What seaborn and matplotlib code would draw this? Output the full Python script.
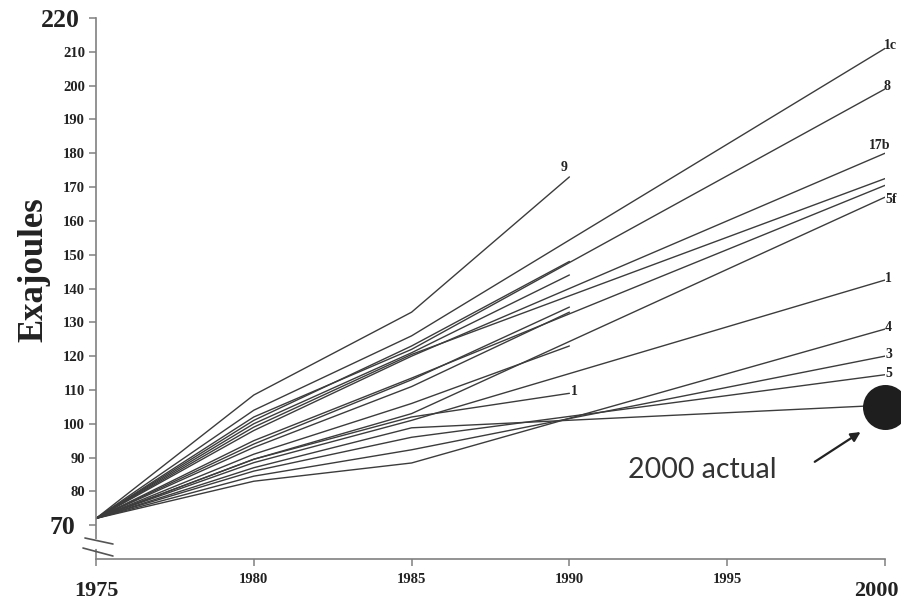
import pandas as pd
import matplotlib
matplotlib.use('Agg')
import matplotlib.pyplot as plt
import matplotlib.transforms as mtransforms
import seaborn as sns

# ========== DADOS ==========
# projecoes que vao ate 2000
long_labels = ['1c', '8', '17b', '', '', '5f', '1', '4', '3', '5', '']
long_1975 = [72, 72, 72, 72, 72, 72, 72, 72, 72, 72, 72]
long_1980 = [104, 102, 98, 99, 95, 89.5, 88.5, 83, 84.5, 86, 87]
long_1985 = [126, 122, 120, 120.5, 113.5, 103, 101, 88.4, 92.3, 96, 98.8]
long_2000 = [211, 199, 180, 172.5, 170.5, 167, 142.5, 128, 120, 114.5, 105.5]

# projecoes que param em 1990
short_labels = ['9', '', '', '', '', '', '1']
short_1975 = [72, 72, 72, 72, 72, 72, 72]
short_1980 = [108.5, 101, 100, 94, 93, 91, 89.5]
short_1985 = [133, 123, 121, 113, 111, 106, 102]
short_1990 = [173, 148, 144, 134.5, 133, 123, 109]

actual_year = [2000]
actual_value = [105]

y_ticks = [70, 80, 90, 100, 110, 120, 130, 140, 150, 160, 170, 180, 190, 200, 210, 220]
x_ticks = [1975, 1980, 1985, 1990, 1995, 2000]

# ========== MONTAR TABELA LONGA ==========
linhas = []
for i in range(len(long_labels)):
    for ano, v in zip([1975, 1980, 1985, 2000],
                      [long_1975[i], long_1980[i], long_1985[i], long_2000[i]]):
        linhas.append({'run': f'L{i}', 'ano': ano, 'ej': v})
for i in range(len(short_labels)):
    for ano, v in zip([1975, 1980, 1985, 1990],
                      [short_1975[i], short_1980[i], short_1985[i], short_1990[i]]):
        linhas.append({'run': f'S{i}', 'ano': ano, 'ej': v})
df = pd.DataFrame(linhas)
df_actual = pd.DataFrame({'ano': actual_year, 'ej': actual_value})

# ========== FIGURA ==========
sns.set_style('white')
serif = ['Liberation Serif', 'DejaVu Serif']

fig = plt.figure(figsize=(9.01, 6.01), dpi=100)
ax = fig.add_axes([96 / 901, 1 - 559 / 601, 789 / 901, 541 / 601])

sns.lineplot(data=df, x='ano', y='ej', units='run', estimator=None,
             color='#3c3c3c', lw=1.0, ax=ax, legend=False)

sns.scatterplot(data=df_actual, x='ano', y='ej', ax=ax, s=900, color='#1e1e1e',
                edgecolor='#1e1e1e', zorder=5, clip_on=False, legend=False)

ax.set_xlim(1975, 2000)
ax.set_ylim(60, 220)

# rotulos das projecoes
offsets = {'1c': (-1, 2), '8': (-1, 2), '17b': (-4, 1), '5f': (0, -2),
           '1': (0, 1), '4': (0, 1), '3': (0, 1), '5': (0, 1)}
for lab, v in zip(long_labels, long_2000):
    if lab == '':
        continue
    if lab == '17b':
        ax.annotate(lab, xy=(2000, v), xytext=offsets[lab], textcoords='offset points',
                    ha='center', va='bottom', fontsize=10, fontweight='bold',
                    family=serif, color='#222')
    else:
        ax.annotate(lab, xy=(2000, v), xytext=offsets[lab], textcoords='offset points',
                    ha='left', va='center', fontsize=10, fontweight='bold',
                    family=serif, color='#222', annotation_clip=False)
for lab, v in zip(short_labels, short_1990):
    if lab == '9':
        ax.annotate(lab, xy=(1990, v), xytext=(-4, 2), textcoords='offset points',
                    ha='center', va='bottom', fontsize=10, fontweight='bold',
                    family=serif, color='#222')
    elif lab:
        ax.annotate(lab, xy=(1990, v), xytext=(1, 1), textcoords='offset points',
                    ha='left', va='center', fontsize=10, fontweight='bold',
                    family=serif, color='#222')

# 2000 actual
ax.annotate('', xy=(1999.3, 98.0), xytext=(1997.7, 88.3),
            arrowprops=dict(arrowstyle='-|>', color='#222', lw=1.6, mutation_scale=14))
ax.text(1994.2, 86.3, '2000 actual', ha='center', va='center', fontsize=20.5,
        family=['Lato', 'DejaVu Sans'], color='#333')

# eixos
for s in ['top', 'right']:
    ax.spines[s].set_visible(False)
for s in ['left', 'bottom']:
    ax.spines[s].set_color('#808080')
    ax.spines[s].set_linewidth(1.2)

ax.set_yticks(y_ticks)
ax.set_yticklabels([str(t) for t in y_ticks])
ax.set_xticks(x_ticks)
ax.set_xticklabels([str(t) for t in x_ticks])
ax.tick_params(axis='both', direction='out', length=5, width=1.1, color='#808080',
               left=True, bottom=True, pad=3)
ax.tick_params(axis='x', pad=5)


def deslocar(t, dx, dy):
    t.set_transform(t.get_transform() +
                    mtransforms.ScaledTranslation(dx / 72, dy / 72, fig.dpi_scale_trans))


for t in ax.get_yticklabels():
    t.set_family(serif)
    t.set_fontweight('bold')
    t.set_color('#222')
    t.set_fontsize(18.5 if t.get_text() in ('70', '220') else 10.5)
    if t.get_text() == '70':
        deslocar(t, -7, 0)
    elif t.get_text() == '220':
        deslocar(t, -4, 0)
for t in ax.get_xticklabels():
    t.set_family(serif)
    t.set_fontweight('bold')
    t.set_color('#222')
    t.set_fontsize(16 if t.get_text() in ('1975', '2000') else 10.5)
    if t.get_text() == '2000':
        deslocar(t, -6, -6)
    elif t.get_text() == '1975':
        deslocar(t, 0, -6)

ax.set_xlabel('')
ax.set_ylabel('Exajoules', fontsize=25, fontweight='bold', family=serif, color='#222')
ax.yaxis.set_label_coords(-0.058, 0.535)

# marca de quebra do eixo y
ax.plot([0, 0], [0.0215, 0.0330], transform=ax.transAxes, color='white', lw=3,
        clip_on=False, zorder=6)
ax.plot([-0.014, 0.0215], [0.0388, 0.0277], transform=ax.transAxes, color='#555',
        lw=1.2, clip_on=False, zorder=7)
ax.plot([-0.0165, 0.0215], [0.0203, 0.0055], transform=ax.transAxes, color='#555',
        lw=1.2, clip_on=False, zorder=7)

fig.savefig('out.png', dpi=100, facecolor='white')
